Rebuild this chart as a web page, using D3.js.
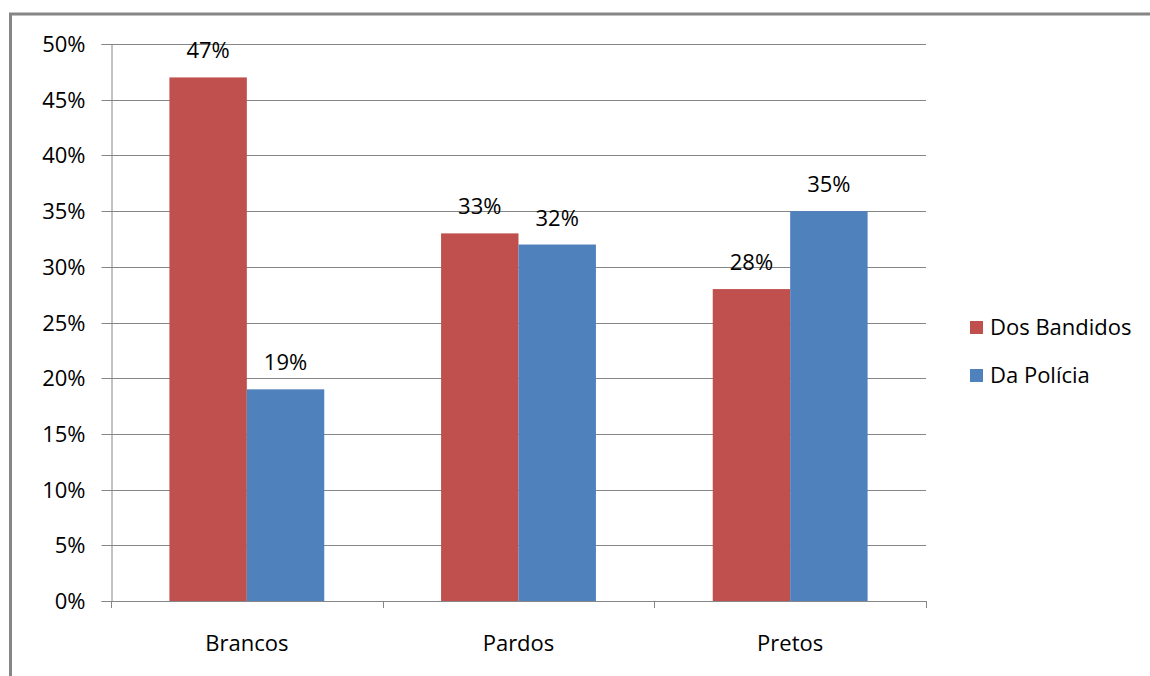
<!DOCTYPE html>
<html>
<head>
<meta charset="utf-8">
<script src="https://cdn.jsdelivr.net/npm/d3@7"></script>
<style>
  html, body { margin: 0; padding: 0; background: #fff; }
  svg { display: block; font-family: "Open Sans", sans-serif; }
</style>
</head>
<body>
<svg id="chart" width="1150" height="676"></svg>
<script>
const categories = ["Brancos", "Pardos", "Pretos"];
const seriesNames = ["Dos Bandidos", "Da Polícia"];
const dosBandidos = [0.47, 0.33, 0.28];
const daPolicia = [0.19, 0.32, 0.35];
const yTicks = [0, 0.05, 0.10, 0.15, 0.20, 0.25, 0.30, 0.35, 0.40, 0.45, 0.50];
const colors = ["#C0504D", "#4F81BD"];

const seriesValues = [dosBandidos, daPolicia];
const svg = d3.select("#chart");
const axisColor = "#868686";

const plotLeft = 111, plotRight = 926, plotTop = 44, plotBottom = 601;

// outer border (partial frame)
svg.append("line").attr("x1", 9).attr("x2", 1150).attr("y1", 14).attr("y2", 14)
  .attr("stroke", axisColor).attr("stroke-width", 3);
svg.append("line").attr("x1", 10.5).attr("x2", 10.5).attr("y1", 13).attr("y2", 676)
  .attr("stroke", axisColor).attr("stroke-width", 3);

const y = d3.scaleLinear().domain([0, 0.5]).range([plotBottom, plotTop]);
const x0 = d3.scaleBand().domain(categories).range([plotLeft, plotRight])
  .paddingInner(0.43).paddingOuter(0.215);
const x1 = d3.scaleBand().domain(seriesNames).range([0, x0.bandwidth()]);

// gridlines
svg.append("g").selectAll("line").data(yTicks.filter(d => d > 0)).join("line")
  .attr("x1", plotLeft).attr("x2", plotRight)
  .attr("y1", d => Math.round(y(d)) + 0.5).attr("y2", d => Math.round(y(d)) + 0.5)
  .attr("stroke", axisColor).attr("stroke-width", 1);

// y axis
const yAxis = d3.axisLeft(y).tickValues(yTicks).tickSize(10).tickPadding(16)
  .tickFormat(d => Math.round(d * 100) + "%");
const gy = svg.append("g").attr("transform", `translate(${plotLeft + 0.5},0)`).call(yAxis);
gy.select(".domain").attr("stroke", axisColor);
gy.selectAll(".tick line").attr("stroke", axisColor);
gy.selectAll(".tick text").attr("font-size", 22).attr("fill", "#000")
  .attr("font-family", "Open Sans, sans-serif");
gy.selectAll(".tick").attr("transform", d => `translate(0,${Math.round(y(d)) + 0.5})`);

// bars
const groups = svg.append("g").selectAll("g").data(categories).join("g")
  .attr("transform", c => `translate(${x0(c)},0)`);
groups.selectAll("rect").data((c, i) => seriesNames.map((s, j) => ({ s, j, v: seriesValues[j][i] })))
  .join("rect")
  .attr("x", d => x1(d.s)).attr("width", x1.bandwidth())
  .attr("y", d => y(d.v)).attr("height", d => y(0) - y(d.v))
  .attr("fill", d => colors[d.j]);
groups.selectAll("text").data((c, i) => seriesNames.map((s, j) => ({ s, j, v: seriesValues[j][i] })))
  .join("text")
  .attr("x", d => x1(d.s) + x1.bandwidth() / 2)
  .attr("y", d => y(d.v) - 19)
  .attr("text-anchor", "middle").attr("font-size", 22).attr("fill", "#000")
  .text(d => Math.round(d.v * 100) + "%");

// x axis
svg.append("line").attr("x1", plotLeft).attr("x2", plotRight)
  .attr("y1", plotBottom + 0.5).attr("y2", plotBottom + 0.5).attr("stroke", axisColor);
const boundaries = d3.range(categories.length + 1).map(i => plotLeft + i * x0.step());
svg.append("g").selectAll("line").data(boundaries).join("line")
  .attr("x1", d => Math.round(d) + 0.5).attr("x2", d => Math.round(d) + 0.5)
  .attr("y1", plotBottom).attr("y2", plotBottom + 7).attr("stroke", axisColor);
svg.append("g").selectAll("text").data(categories).join("text")
  .attr("x", c => x0(c) + x0.bandwidth() / 2).attr("y", 651)
  .attr("text-anchor", "middle").attr("font-size", 22).attr("fill", "#000")
  .text(c => c);

// legend
const legend = svg.append("g").selectAll("g").data(seriesNames).join("g")
  .attr("transform", (d, i) => `translate(970,${321 + i * 48})`);
legend.append("rect").attr("width", 13).attr("height", 13).attr("fill", (d, i) => colors[i]);
legend.append("text").attr("x", 20).attr("y", 6.5).attr("dy", "0.35em")
  .attr("font-size", 22).attr("fill", "#000").text(d => d);
</script>
</body>
</html>
